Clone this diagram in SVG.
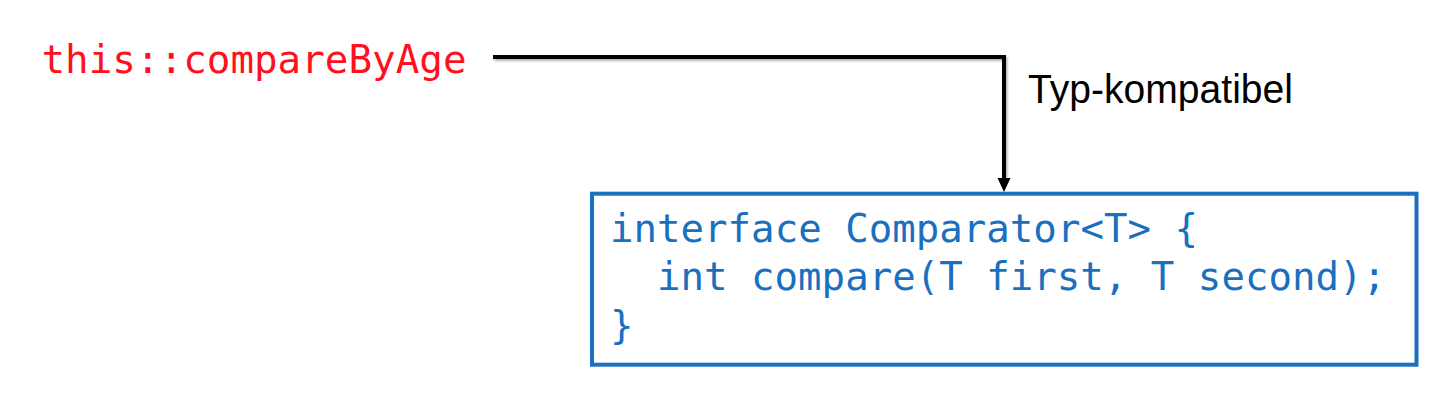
<svg xmlns="http://www.w3.org/2000/svg" width="1436" height="408" viewBox="0 0 1436 408">
  <style>
    .mono { font-family: "DejaVu Sans Mono", "Liberation Mono", monospace; font-size: 39px; }
    .red { fill: #ff1020; }
    .blue { fill: #1a6fbf; }
    .label { font-family: "Liberation Sans", Arial, sans-serif; font-size: 41px; fill: #000; }
    .conn { fill: none; stroke: #000; stroke-width: 4; stroke-linejoin: miter; }
    .box { fill: #fff; stroke: #1a6fbf; stroke-width: 4; }
  </style>
  <defs>
    <filter id="shadow" x="-5%" y="-20%" width="110%" height="140%">
      <feDropShadow dx="1.5" dy="2" stdDeviation="1.2" flood-color="#000" flood-opacity="0.3"/>
    </filter>
  </defs>

  <g id="source">
    <text class="mono red" x="41.5" y="72.7" textLength="425" lengthAdjust="spacingAndGlyphs">this::compareByAge</text>
  </g>

  <g id="interface">
    <rect class="box" x="592" y="193.7" width="824.5" height="171"/>
    <text class="mono blue" x="610" y="241.7" textLength="588" lengthAdjust="spacingAndGlyphs">interface Comparator&lt;T&gt; {</text>
    <text class="mono blue" x="657" y="290" textLength="729" lengthAdjust="spacingAndGlyphs">int compare(T first, T second);</text>
    <text class="mono blue" x="610" y="338.5">}</text>
  </g>

  <g id="connectors">
    <path class="conn" filter="url(#shadow)" d="M493,57 H1004 V179"/>
    <path d="M997.5,178 L1010.5,178 L1004,192 Z" fill="#000"/>
    <text class="label" x="1028" y="103.3" textLength="265" lengthAdjust="spacingAndGlyphs">Typ-kompatibel</text>
  </g>
</svg>
